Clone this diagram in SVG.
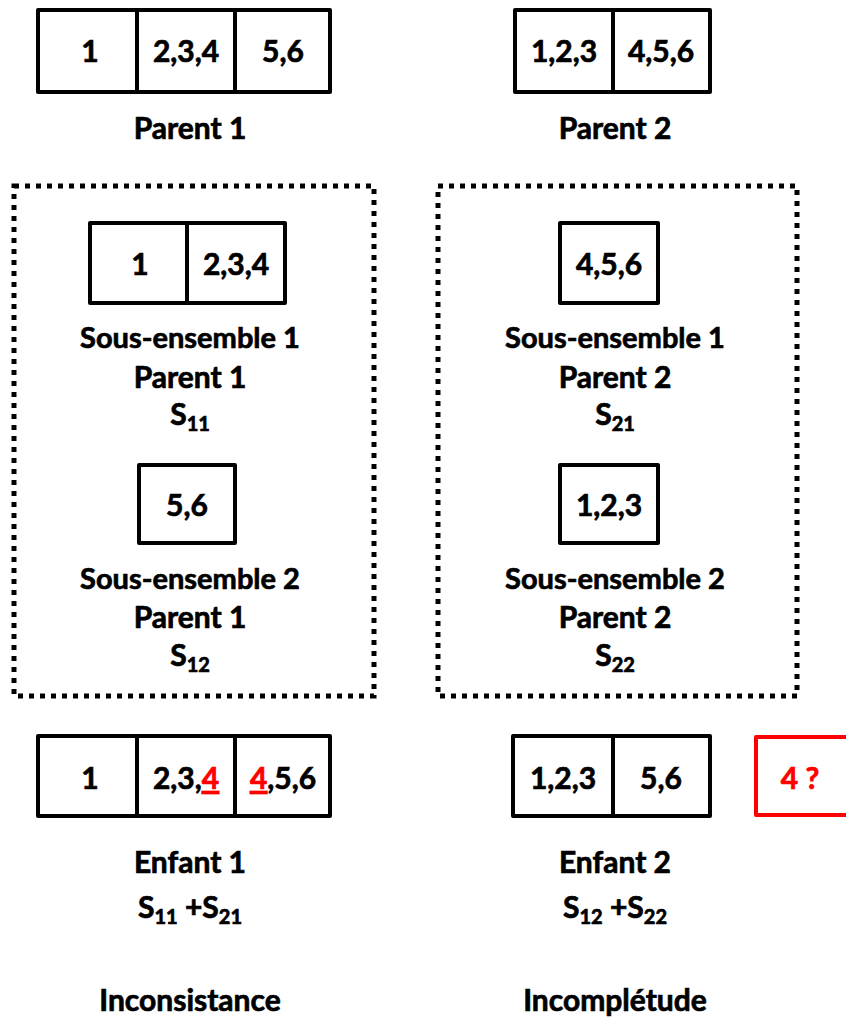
<svg xmlns="http://www.w3.org/2000/svg" width="846" height="1021" viewBox="0 0 846 1021">
<style>
text{font-family:Lato,"Liberation Sans",sans-serif;font-weight:bold;font-size:30px;text-anchor:middle;fill:#000;stroke:#000;stroke-width:0.7}
.box{fill:#fff;stroke:#000;stroke-width:4;stroke-linejoin:round}
.div{stroke:#000;stroke-width:4}
.red{fill:#ff0000;stroke:#ff0000}
.redbox{fill:#fff;stroke:#ff0000;stroke-width:4;stroke-linejoin:round}
.dots{fill:none;stroke:#000;stroke-width:5;stroke-dasharray:5 6}
.sub{font-size:20px}
.lbl{font-size:29px}
</style>
<rect width="846" height="1021" fill="#fff"/>
<g id="parent1">
<rect class="box" x="38" y="10" width="292" height="82"/>
<line class="div" x1="137" y1="10" x2="137" y2="92"/>
<line class="div" x1="235" y1="10" x2="235" y2="92"/>
<text x="90" y="62">1</text><text x="186" y="62">2,3,4</text><text x="283" y="62">5,6</text>
<text x="190" y="139">Parent 1</text>
</g>
<g id="parent2">
<rect class="box" x="515" y="10" width="195" height="82"/>
<line class="div" x1="613" y1="10" x2="613" y2="92"/>
<text x="564" y="62">1,2,3</text><text x="661" y="62">4,5,6</text>
<text x="615" y="139">Parent 2</text>
</g>
<g id="group1">
<rect class="dots" x="14" y="186" width="360" height="510"/>
</g>
<g id="group2">
<rect class="dots" x="438" y="186" width="359" height="510"/>
</g>
<g id="s11">
<rect class="box" x="90" y="223" width="195" height="80"/>
<line class="div" x1="187" y1="223" x2="187" y2="303"/>
<text x="140" y="275">1</text><text x="236" y="275">2,3,4</text>
<text class="lbl" x="190" y="348">Sous-ensemble 1</text>
<text x="190" y="388">Parent 1</text>
<text x="190" y="425">S<tspan class="sub" dy="6">11</tspan></text>
</g>
<g id="s12">
<rect class="box" x="139" y="465" width="96" height="78"/>
<text x="187" y="516">5,6</text>
<text class="lbl" x="190" y="589">Sous-ensemble 2</text>
<text x="190" y="628">Parent 1</text>
<text x="190" y="666">S<tspan class="sub" dy="6">12</tspan></text>
</g>
<g id="s21">
<rect class="box" x="560" y="223" width="98" height="80"/>
<text x="609" y="275">4,5,6</text>
<text class="lbl" x="615" y="348">Sous-ensemble 1</text>
<text x="615" y="388">Parent 2</text>
<text x="615" y="425">S<tspan class="sub" dy="6">21</tspan></text>
</g>
<g id="s22">
<rect class="box" x="560" y="465" width="98" height="78"/>
<text x="609" y="516">1,2,3</text>
<text class="lbl" x="615" y="589">Sous-ensemble 2</text>
<text x="615" y="628">Parent 2</text>
<text x="615" y="666">S<tspan class="sub" dy="6">22</tspan></text>
</g>
<g id="enfant1">
<rect class="box" x="38" y="736" width="292" height="80"/>
<line class="div" x1="137" y1="736" x2="137" y2="816"/>
<line class="div" x1="235" y1="736" x2="235" y2="816"/>
<text x="90" y="789">1</text>
<text x="186" y="789">2,3,<tspan class="red" text-decoration="underline">4</tspan></text>
<text x="283" y="789"><tspan class="red" text-decoration="underline">4</tspan>,5,6</text>
<text x="190" y="873">Enfant 1</text>
<text x="190" y="918">S<tspan class="sub" dy="6">11</tspan><tspan dy="-6"> +S</tspan><tspan class="sub" dy="6">21</tspan></text>
</g>
<g id="enfant2">
<rect class="box" x="513" y="736" width="197" height="80"/>
<line class="div" x1="613" y1="736" x2="613" y2="816"/>
<text x="563" y="789">1,2,3</text><text x="661" y="789">5,6</text>
<text x="615" y="873">Enfant 2</text>
<text x="615" y="918">S<tspan class="sub" dy="6">12</tspan><tspan dy="-6"> +S</tspan><tspan class="sub" dy="6">22</tspan></text>
</g>
<g id="missing">
<rect class="redbox" x="756" y="737" width="100" height="78"/>
<text class="red" x="800" y="789">4 ?</text>
</g>
<g id="labels">
<text x="190" y="1011">Inconsistance</text>
<text x="615" y="1011">Incomplétude</text>
</g>
<g id="connectors"></g>
</svg>
